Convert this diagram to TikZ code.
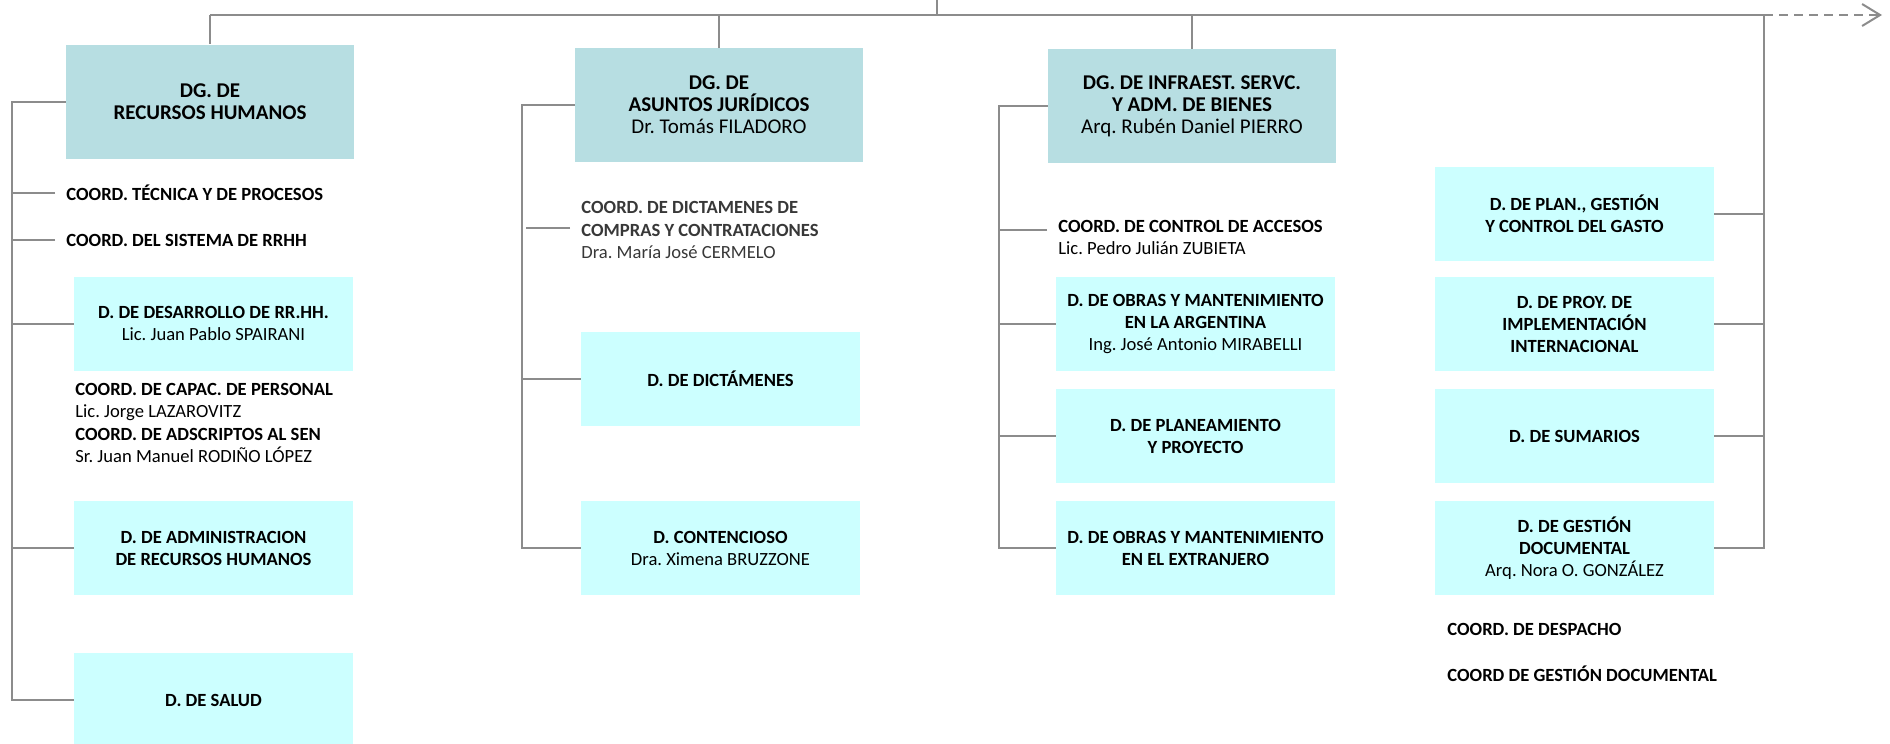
\documentclass[tikz,border=0pt]{standalone}
\usepackage{fontspec}
\setmainfont{Carlito}
\usetikzlibrary{arrows.meta}
\definecolor{dgfill}{RGB}{183,222,226}
\definecolor{dfill}{RGB}{204,255,255}
\definecolor{linegray}{RGB}{140,140,140}
\frenchspacing

\begin{document}
\begin{tikzpicture}[x=0.5pt,y=-0.5pt,
  dgbox/.style={fill=dgfill,minimum width=144pt,minimum height=57pt,inner sep=0pt,align=center,font=\fontsize{10.5}{11}\selectfont},
  dbox/.style={fill=dfill,minimum width=139.5pt,minimum height=47pt,inner sep=0pt,align=center,font=\fontsize{9.3}{11}\selectfont},
  coordtxt/.style={anchor=west,align=left,inner ysep=0pt,inner xsep=5.5pt,font=\fontsize{9.3}{11.3}\selectfont},
  link/.style={draw=linegray,line width=1pt}]
\useasboundingbox (0,0) rectangle (1890,744);

\coordinate (top) at (937,0);
\coordinate (hub) at (937,15);
\coordinate (bar1) at (12,0);
\coordinate (bar2) at (522,0);
\coordinate (bar3) at (999,0);
\coordinate (bar4) at (1764,0);
\coordinate (more) at (1882,15);

\node[dgbox] (dgrh) at (210,101.5) {\textbf{DG. DE}\\\textbf{RECURSOS HUMANOS}};
\node[dgbox] (dgaj) at (719,105) {\textbf{DG. DE}\\\textbf{ASUNTOS JURÍDICOS}\\Dr. Tomás FILADORO};
\node[dgbox] (dgin) at (1192,106) {\textbf{DG. DE INFRAEST. SERVC.}\\\textbf{Y ADM. DE BIENES}\\Arq. Rubén Daniel PIERRO};

\node[coordtxt] (ctec) at (55,193) {\textbf{COORD. TÉCNICA Y DE PROCESOS}};
\node[coordtxt] (csis) at (55,240) {\textbf{COORD. DEL SISTEMA DE RRHH}};
\node[dbox] (ddes) at (213.5,323.5) {\textbf{D. DE DESARROLLO DE RR.HH.}\\Lic. Juan Pablo SPAIRANI};
\node[coordtxt] (ccap) at (64,423) {\textbf{COORD. DE CAPAC. DE PERSONAL}\\Lic. Jorge LAZAROVITZ\\\textbf{COORD. DE ADSCRIPTOS AL SEN}\\Sr. Juan Manuel RODIÑO LÓPEZ};
\node[dbox] (dadm) at (213.5,548) {\textbf{D. DE ADMINISTRACION}\\\textbf{DE RECURSOS HUMANOS}};
\node[dbox] (dsal) at (213.5,700) {\textbf{D. DE SALUD}};

\node[coordtxt,text=black!78] (cdic) at (570,230) {\textbf{COORD. DE DICTAMENES DE}\\\textbf{COMPRAS Y CONTRATACIONES}\\Dra. María José CERMELO};
\node[dbox] (ddic) at (720.5,379) {\textbf{D. DE DICTÁMENES}};
\node[dbox] (dcon) at (720.5,548) {\textbf{D. CONTENCIOSO}\\Dra. Ximena BRUZZONE};

\node[coordtxt] (cacc) at (1047,237.5) {\textbf{COORD. DE CONTROL DE ACCESOS}\\Lic. Pedro Julián ZUBIETA};
\node[dbox] (dobar) at (1195.5,324) {\textbf{D. DE OBRAS Y MANTENIMIENTO}\\\textbf{EN LA ARGENTINA}\\Ing. José Antonio MIRABELLI};
\node[dbox] (dpla) at (1195.5,436) {\textbf{D. DE PLANEAMIENTO}\\\textbf{Y PROYECTO}};
\node[dbox] (dobex) at (1195.5,548) {\textbf{D. DE OBRAS Y MANTENIMIENTO}\\\textbf{EN EL EXTRANJERO}};

\node[dbox] (dgas) at (1574.5,214) {\textbf{D. DE PLAN., GESTIÓN}\\\textbf{Y CONTROL DEL GASTO}};
\node[dbox] (dpro) at (1574.5,324) {\textbf{D. DE PROY. DE}\\\textbf{IMPLEMENTACIÓN}\\\textbf{INTERNACIONAL}};
\node[dbox] (dsum) at (1574.5,436) {\textbf{D. DE SUMARIOS}};
\node[dbox] (dgdo) at (1574.5,548) {\textbf{D. DE GESTIÓN}\\\textbf{DOCUMENTAL}\\Arq. Nora O. GONZÁLEZ};
\node[coordtxt] (cdes) at (1436,629) {\textbf{COORD. DE DESPACHO}};
\node[coordtxt] (cgdo) at (1436,674) {\textbf{COORD DE GESTIÓN DOCUMENTAL}};

\draw[link] (top) -- (hub);
\draw[link] (dgrh.north |- hub) -- (bar4 |- hub);
\draw[link,dash pattern=on 4.5pt off 3pt,-{Straight Barb[length=9pt,width=11pt]}] (bar4 |- hub) -- (more);
\draw[link] (dgrh.north |- hub) -- (dgrh.north);
\draw[link] (dgaj.north |- hub) -- (dgaj.north);
\draw[link] (dgin.north |- hub) -- (dgin.north);

\draw[link] (dgrh.west) -- (dgrh.west -| bar1) -- (dsal.west -| bar1) -- (dsal.west);
\draw[link] (ctec.west) -- (ctec.west -| bar1);
\draw[link] (csis.west) -- (csis.west -| bar1);
\draw[link] (ddes.west) -- (ddes.west -| bar1);
\draw[link] (dadm.west) -- (dadm.west -| bar1);

\draw[link] (dgaj.west) -- (dgaj.west -| bar2) -- (dcon.west -| bar2) -- (dcon.west);
\draw[link] ([yshift=1pt]cdic.west) -- ([yshift=1pt,xshift=2pt]cdic.west -| bar2);
\draw[link] (ddic.west) -- (ddic.west -| bar2);

\draw[link] (dgin.west) -- (dgin.west -| bar3) -- (dobex.west -| bar3) -- (dobex.west);
\draw[link] ([yshift=3.75pt]cacc.west) -- ([yshift=3.75pt]cacc.west -| bar3);
\draw[link] (dobar.west) -- (dobar.west -| bar3);
\draw[link] (dpla.west) -- (dpla.west -| bar3);

\draw[link] (bar4 |- hub) -- (dgdo.east -| bar4) -- (dgdo.east);
\draw[link] (dgas.east) -- (dgas.east -| bar4);
\draw[link] (dpro.east) -- (dpro.east -| bar4);
\draw[link] (dsum.east) -- (dsum.east -| bar4);
\end{tikzpicture}
\end{document}
